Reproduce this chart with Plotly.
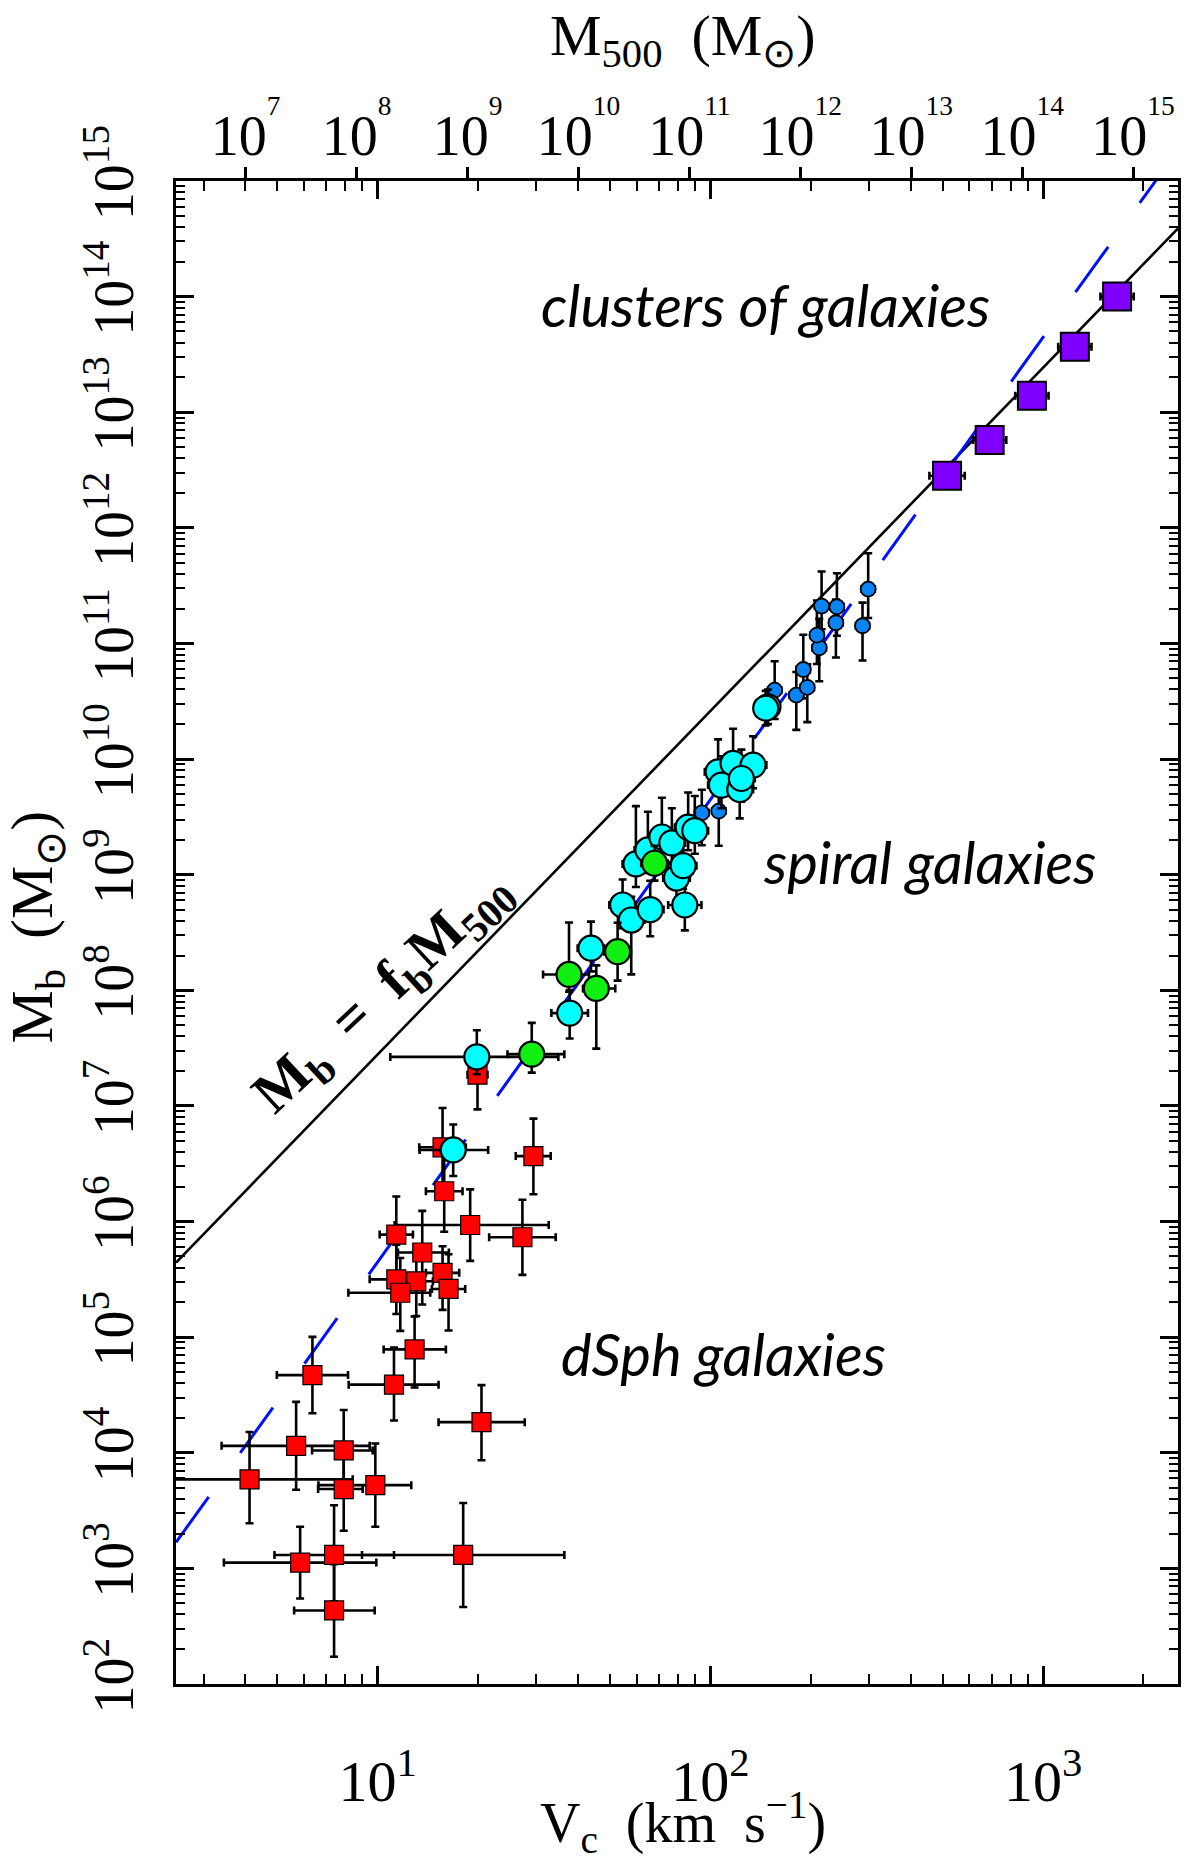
import numpy as np
import plotly.graph_objects as go

# ---------------- data (log10 Vc [km/s], log10 Mb [Msun], errors in dex) ----------------
# dSph galaxies (red squares)
dsph_logv = [1.300, 1.195, 1.468, 1.200, 1.278, 1.435, 1.056, 1.134, 1.056, 1.116, 1.195, 1.068, 1.213,
             1.111, 0.804, 1.049, 1.312, 0.755, 0.898, 0.615, 0.898, 0.993, 0.767, 0.869, 1.257, 0.869]
dsph_logm = [7.27, 6.642, 6.566, 6.262, 5.970, 5.864, 5.887, 5.732, 5.50, 5.483, 5.556, 5.384, 5.417,
             4.894, 4.672, 4.589, 4.265, 4.06, 4.02, 3.77, 3.686, 3.72, 3.05, 3.116, 3.116, 2.636]
dsph_xlo = [0.03, 0.07, 0.053, 0.055, 0.227, 0.10, 0.05, 0.073, 0.08, 0.05, 0.05, 0.156, 0.05,
            0.093, 0.107, 0.136, 0.129, 0.224, 0.095, 0.40, 0.077, 0.171, 0.229, 0.179, 0.304, 0.12]
dsph_xhi = [0.03, 0.07, 0.052, 0.055, 0.236, 0.10, 0.05, 0.08, 0.08, 0.05, 0.05, 0.09, 0.05,
            0.094, 0.107, 0.134, 0.13, 0.221, 0.087, 0.31, 0.057, 0.108, 0.229, 0.18, 0.304, 0.122]
dsph_ylo = [0.30, 0.35, 0.33, 0.35, 0.31, 0.325, 0.40, 0.45, 0.30, 0.30, 0.32, 0.33, 0.36,
            0.33, 0.33, 0.31, 0.33, 0.38, 0.30, 0.38, 0.36, 0.36, 0.31, 0.40, 0.45, 0.40]
dsph_yhi = [0.15, 0.34, 0.324, 0.36, 0.308, 0.325, 0.33, 0.36, 0.30, 0.25, 0.23, 0.30, 0.30,
            0.285, 0.33, 0.32, 0.32, 0.38, 0.35, 0.41, 0.33, 0.36, 0.31, 0.43, 0.45, 0.40]

# blue small circles (star-dominated spirals)
blue_logv = [1.974, 2.025, 2.193, 2.258, 2.291, 2.279, 2.327, 2.320, 2.334, 2.380, 2.377, 2.474, 2.457]
blue_logm = [9.535, 9.55, 10.596, 10.553, 10.62, 10.775, 10.963, 11.072, 11.323, 11.317, 11.179, 11.47, 11.153]
blue_xerr = [0.02, 0.02, 0.02, 0.02, 0.02, 0.02, 0.02, 0.02, 0.02, 0.02, 0.02, 0.02, 0.02]
blue_ylo = [0.28, 0.30, 0.25, 0.30, 0.30, 0.25, 0.29, 0.25, 0.20, 0.25, 0.30, 0.25, 0.30]
blue_yhi = [0.20, 0.25, 0.25, 0.20, 0.20, 0.30, 0.25, 0.30, 0.30, 0.29, 0.20, 0.31, 0.20]

# cyan circles (gas-rich galaxies)
cyan_logv = [1.298, 1.227, 1.577, 1.641, 1.736, 1.762, 1.819, 1.923, 1.776, 1.812, 1.854, 1.884, 1.906,
             1.898, 1.918, 1.933, 1.953, 2.023, 2.068, 2.128, 2.033, 2.088, 2.093, 2.173, 2.166]
cyan_logm = [7.424, 6.619, 7.803, 8.364, 8.738, 8.608, 8.698, 8.738, 9.093, 9.214, 9.326, 9.275, 9.032,
             8.971, 9.078, 9.411, 9.381, 9.89, 9.962, 9.948, 9.775, 9.737, 9.832, 10.452, 10.44]
cyan_xlo = [0.26, 0.101, 0.055, 0.04, 0.04, 0.04, 0.04, 0.05, 0.04, 0.04, 0.04, 0.04, 0.04,
            0.04, 0.04, 0.04, 0.04, 0.04, 0.04, 0.04, 0.04, 0.04, 0.04, 0.03, 0.03]
cyan_xhi = [0.245, 0.105, 0.055, 0.04, 0.04, 0.04, 0.04, 0.05, 0.04, 0.04, 0.04, 0.04, 0.04,
            0.04, 0.04, 0.04, 0.04, 0.04, 0.04, 0.04, 0.04, 0.04, 0.04, 0.03, 0.03]
cyan_ylo = [0.15, 0.225, 0.22, 0.20, 0.20, 0.47, 0.23, 0.22, 0.20, 0.20, 0.20, 0.20, 0.14,
            0.20, 0.20, 0.20, 0.20, 0.20, 0.20, 0.20, 0.20, 0.25, 0.20, 0.15, 0.15]
cyan_yhi = [0.23, 0.22, 0.20, 0.23, 0.22, 0.20, 0.25, 0.20, 0.50, 0.33, 0.34, 0.30, 0.20,
            0.20, 0.25, 0.30, 0.30, 0.28, 0.30, 0.25, 0.25, 0.20, 0.25, 0.15, 0.15]

# green circles
green_logv = [1.463, 1.575, 1.657, 1.721, 1.832]
green_logm = [7.448, 8.137, 8.016, 8.334, 9.099]
green_xlo = [0.073, 0.078, 0.04, 0.04, 0.04]
green_xhi = [0.098, 0.06, 0.057, 0.04, 0.04]
green_ylo = [0.16, 0.15, 0.52, 0.25, 0.15]
green_yhi = [0.27, 0.45, 0.20, 0.25, 0.15]

# clusters of galaxies (purple squares)
clus_logv = [2.711, 2.839, 2.966, 3.095, 3.222]
clus_logm = [12.45, 12.759, 13.143, 13.567, 14.0]
clus_xerr = [0.053, 0.05, 0.05, 0.05, 0.05]
clus_yerr = [0.05, 0.05, 0.05, 0.05, 0.05]

# reference relations
fb_line_logv = [0.394, 3.405]      # Mb = fb * M500 (end points, log10)
fb_line_logm = [5.645, 14.59]
btf_logc = 1.65                    # baryonic Tully-Fisher  Mb = A V^4
m500_logk = 5.19                   # M500 = k V^3
xlog_range = [0.394, 3.405]
ylog_range = [2.0, 15.0]

# ---------------- helpers ----------------
def lin(a):
    return 10 ** np.asarray(a, dtype=float)

def errs(logc, lo, hi):
    c = lin(logc)
    return c * (10 ** np.asarray(hi) - 1), c * (1 - 10 ** (-np.asarray(lo)))

def series(logv, logm, xlo, xhi, ylo, yhi, symbol, size, color, lw, name):
    exp, exm = errs(logv, xlo, xhi)
    eyp, eym = errs(logm, ylo, yhi)
    return go.Scatter(
        x=lin(logv), y=lin(logm), mode="markers", name=name, showlegend=False,
        marker=dict(symbol=symbol, size=size, color=color, line=dict(color="black", width=lw)),
        error_x=dict(type="data", symmetric=False, array=exp, arrayminus=exm,
                     color="black", thickness=2.6, width=4),
        error_y=dict(type="data", symmetric=False, array=eyp, arrayminus=eym,
                     color="black", thickness=2.6, width=4),
    )

fig = go.Figure()

fig.add_trace(go.Scatter(x=lin(fb_line_logv), y=lin(fb_line_logm), mode="lines",
                         line=dict(color="black", width=2.6), showlegend=False, hoverinfo="skip"))
vline = lin(xlog_range)
fig.add_trace(go.Scatter(x=vline, y=10 ** btf_logc * vline ** 4, mode="lines",
                         line=dict(color="#0010ff", width=3, dash="56px,54px"),
                         showlegend=False, hoverinfo="skip"))

fig.add_trace(series(dsph_logv, dsph_logm, dsph_xlo, dsph_xhi, dsph_ylo, dsph_yhi,
                     "square", 19, "#ff0000", 1.2, "dSph"))
fig.add_trace(series(blue_logv, blue_logm, blue_xerr, blue_xerr, blue_ylo, blue_yhi,
                     "circle", 15, "#0a84f2", 1.8, "star-dominated"))
fig.add_trace(series(cyan_logv, cyan_logm, cyan_xlo, cyan_xhi, cyan_ylo, cyan_yhi,
                     "circle", 25, "#00ffff", 2.2, "gas-rich"))
fig.add_trace(series(green_logv, green_logm, green_xlo, green_xhi, green_ylo, green_yhi,
                     "circle", 25, "#11ee11", 2.2, "green"))
fig.add_trace(series(clus_logv, clus_logm, clus_xerr, clus_xerr, clus_yerr, clus_yerr,
                     "square", 28, "#7f00ff", 2, "clusters"))

# invisible trace so the top (M500) axis is drawn
m500_range = [3 * xlog_range[0] + m500_logk, 3 * xlog_range[1] + m500_logk]
fig.add_trace(go.Scatter(x=lin(m500_range), y=[1e3, 1e3], xaxis="x2", mode="markers",
                         marker=dict(opacity=0), showlegend=False, hoverinfo="skip"))

# ticks
x_major = [1, 2, 3]
y_major = list(range(2, 16))
m_major = list(range(7, 16))
x_minor = [m * 10 ** d for d in range(0, 4) for m in range(2, 10)]
y_minor = [m * 10 ** d for d in range(2, 15) for m in range(2, 10)]

FONT = "Liberation Serif"
NB = "\u00a0"
axis_common = dict(type="log", showgrid=False, zeroline=False, showline=True, linecolor="black",
                   linewidth=3, mirror="ticks", ticks="inside", tickwidth=2.5, tickcolor="black")

# page body has an 8px margin: figure is offset by 8px, so shrink it accordingly
fig.update_layout(
    width=1179, height=1848,
    margin=dict(l=168, r=6, t=173, b=172),
    paper_bgcolor="white", plot_bgcolor="white",
    xaxis=dict(**axis_common, range=xlog_range, ticklen=18,
               tickmode="array", tickvals=[10 ** e for e in x_major],
               ticktext=[f"10<sup>{e}</sup>" for e in x_major],
               tickfont=dict(family=FONT, size=58, color="black"), ticklabelstandoff=44,
               minor=dict(tickmode="array", tickvals=x_minor, ticks="inside", ticklen=10,
                          tickwidth=2, tickcolor="black")),
    yaxis=dict(**axis_common, range=ylog_range, ticklen=18,
               tickmode="array", tickvals=[10 ** e for e in y_major],
               ticktext=[f"10<sup>{e}</sup>" for e in y_major],
               tickangle=-90, tickfont=dict(family=FONT, size=56, color="black"),
               ticklabelstandoff=18,
               minor=dict(tickmode="array", tickvals=y_minor, ticks="inside", ticklen=9,
                          tickwidth=2, tickcolor="black")),
    xaxis2=dict(type="log", overlaying="x", side="top", anchor="y", range=m500_range,
                showgrid=False, zeroline=False, showline=False, ticks="outside", ticklen=13,
                tickwidth=3, tickcolor="black",
                tickmode="array", tickvals=[10 ** e for e in m_major],
                ticktext=[f"10<sup><sup>{e}</sup></sup>" for e in m_major],
                tickfont=dict(family=FONT, size=56, color="black"), ticklabelstandoff=-10),
)

def px2paper(px, py):
    return (px - 176) / 1005, (1684 - py) / 1503

ann = []
x, y = px2paper(685, 1822)
ann.append(dict(x=x, y=y, xref="paper", yref="paper", showarrow=False, xanchor="center", yanchor="middle",
                text=f"V<sub>c</sub>{NB}{NB}(km{NB}{NB}s<sup>\u22121</sup>)",
                font=dict(family=FONT, size=56, color="black")))
x, y = px2paper(685, 40)
ann.append(dict(x=x, y=y, xref="paper", yref="paper", showarrow=False, xanchor="center", yanchor="middle",
                text=f"M<sub>500</sub>{NB}{NB}(M<sub>\u2299</sub>)",
                font=dict(family=FONT, size=58, color="black")))
x, y = px2paper(36, 927)
ann.append(dict(x=x, y=y, xref="paper", yref="paper", showarrow=False, xanchor="center", yanchor="middle",
                textangle=-90,
                text=f"M<sub>b</sub>{NB}{NB}(M<sub>\u2299</sub>)",
                font=dict(family=FONT, size=60, color="black")))

label_font = "Lato"
ann.append(dict(x=2.164, y=13.93, xref="x", yref="y", showarrow=False, xanchor="center", yanchor="middle",
                text="<i>clusters of galaxies</i>", font=dict(family=label_font, size=58, color="black")))
ann.append(dict(x=2.657, y=9.11, xref="x", yref="y", showarrow=False, xanchor="center", yanchor="middle",
                text="<i>spiral galaxies</i>", font=dict(family=label_font, size=58, color="black")))
ann.append(dict(x=2.038, y=4.86, xref="x", yref="y", showarrow=False, xanchor="center", yanchor="middle",
                text="<i>dSph galaxies</i>", font=dict(family=label_font, size=58, color="black")))
ann.append(dict(x=1.015, y=7.976, xref="x", yref="y", showarrow=False, xanchor="center", yanchor="middle",
                textangle=-43,
                text=f"<b>M<sub>b</sub>{NB}{NB}={NB}{NB}f<sub>b</sub>M<sub>500</sub></b>",
                font=dict(family=FONT, size=58, color="black")))
fig.update_layout(annotations=ann)

fig.write_html("out.html")
